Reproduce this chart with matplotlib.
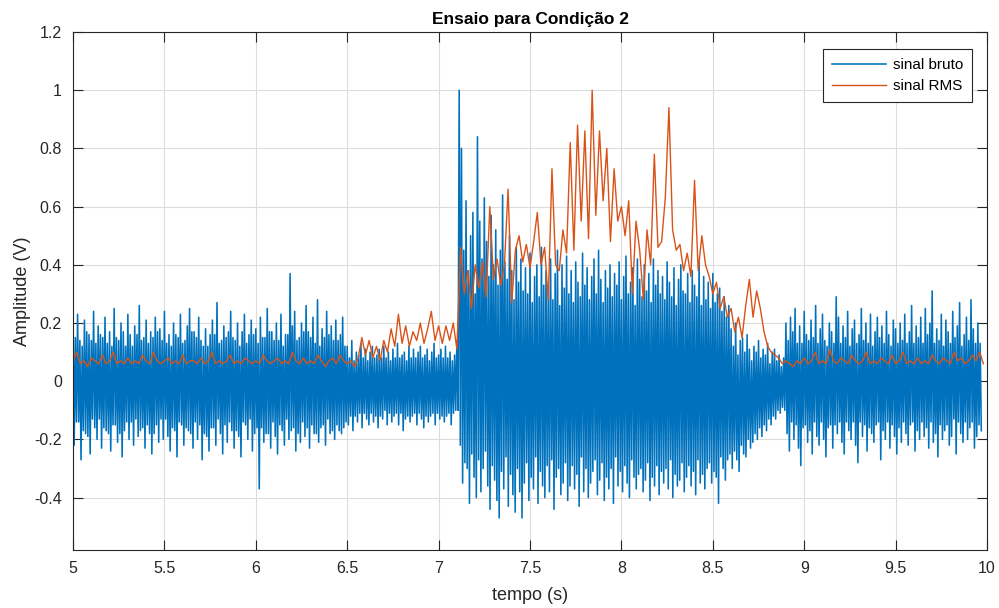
import matplotlib
matplotlib.use('Agg')
import matplotlib.pyplot as plt
import numpy as np

plt.rcParams['font.family'] = ['Liberation Sans', 'DejaVu Sans']

# sinal bruto (centivolts), amostrado a 160 Hz a partir de t = 5 s
fs_bruto = 160.0
t0 = 5.0

# 5.0 - 6.5 s: repouso
bruto_1 = [
    18, -22, 15, -14, 23, -14, 14, -27, 12, -17, 21, -18, 17, -19, 16, -25, 14, -13, 24, -16,
    13, -20, 19, -13, 16, -23, 15, -16, 22, -17, 13, -18, 17, -24, 12, -15, 25, -15, 15, -21,
    14, -18, 20, -26, 17, -17, 12, -14, 23, -20, 16, -14, 12, -22, 19, -13, 16, -19, 26, -17,
    14, -16, 15, -23, 21, -15, 13, -18, 17, -25, 15, -18, 22, -15, 17, -21, 18, -13, 14, -20,
    24, -13, 13, -19, 16, -24, 12, -16, 20, -17, 16, -26, 15, -14, 23, -15, 13, -22, 14, -16,
    19, -17, 25, -18, 17, -23, 17, -14, 15, -20, 22, -15, 14, -27, 12, -18, 18, -19, 12, -24,
    16, -16, 21, -16, 16, -22, 27, -13, 13, -18, 14, -25, 19, -15, 15, -21, 17, -14, 24, -17,
    15, -23, 14, -17, 20, -19, 12, -26, 17, -14, 23, -15, 13, -20, 16, -13, 21, -24, 16, -18,
    18, -16, 13, -37, 22, -16, 15, -21, 15, -18, 25, -18, 17, -23, 17, -14, 14, -19, 20, -25,
    14, -15, 23, -17, 12, -22, 16, -13, 16, -20, 37, -17, 19, -16, 24, -24, 14, -18, 15, -21,
    20, -14, 17, -19, 26, -16, 17, -23, 15, -15, 22, -18, 13, -18, 28, -21, 12, -16, 18, -15,
    15, -22, 24, -13, 16, -18, 19, -17, 14, -20, 21, -15, 14, -17, 16, -18, 22, -16, 12, -14,
]

# 6.5 - 7.1 s: amplitude reduzida
bruto_2 = [
    12, -15, 8, -12, 14, -17, 7, -12, 10, -14, 9, -11, 13, -16, 8, -11, 11, -13, 7, -15,
    10, -11, 12, -14, 8, -12, 9, -16, 11, -12, 8, -13, 12, -10, 8, -15, 10, -11, 7, -14,
    11, -12, 8, -11, 13, -15, 8, -11, 9, -17, 10, -13, 7, -12, 12, -14, 8, -12, 11, -11,
    8, -15, 10, -11, 12, -13, 8, -16, 9, -12, 11, -14, 7, -12, 10, -11, 13, -15, 8, -11,
    9, -13, 11, -12, 8, -14, 12, -12, 8, -11, 10, -15, 7, -11, 9, -10,
]

# 7.1 - 8.6 s: evento
bruto_3 = [
    14, -10, 100, -22, 80, -35, 45, -28, 62, -30, 38, -42, 50, -25, 58, -33, 30, -40, 84, -27,
    55, -38, 42, -30, 63, -24, 48, -36, 36, -44, 57, -29, 40, -34, 52, -41, 33, -47, 45, -31,
    64, -37, 41, -26, 35, -43, 50, -32, 38, -39, 28, -45, 46, -30, 34, -38, 42, -47, 31, -35,
    39, -28, 30, -41, 44, -33, 27, -37, 36, -26, 40, -42, 29, -31, 46, -36, 33, -40, 38, -29,
    31, -38, 42, -27, 28, -44, 37, -33, 45, -30, 26, -39, 40, -35, 32, -28, 43, -41, 30, -36,
    38, -29, 27, -37, 41, -32, 34, -43, 29, -26, 44, -38, 33, -30, 39, -40, 28, -35, 36, -31,
    42, -27, 30, -39, 45, -34, 35, -28, 27, -41, 38, -33, 32, -37, 40, -30, 29, -42, 37, -26,
    33, -36, 41, -31, 28, -38, 36, -29, 43, -35, 30, -40, 34, -27, 39, -33, 26, -37, 42, -32,
    35, -30, 29, -38, 40, -34, 31, -28, 37, -41, 27, -33, 42, -36, 33, -29, 38, -39, 30, -31,
    36, -35, 28, -30, 41, -37, 34, -27, 29, -40, 39, -32, 26, -36, 35, -34, 40, -28, 31, -38,
    30, -33, 37, -29, 27, -36, 38, -31, 33, -39, 29, -27, 41, -35, 26, -32, 36, -37, 28, -30,
    34, -28, 25, -35, 37, -31, 27, -33, 30, -42, 32, -26, 24, -30, 29, -34, 22, -27, 26, -25,
]

# 8.6 - 8.9 s: transição
bruto_4 = [
    18, -30, 12, -24, 20, -27, 9, -31, 14, -22, 15, -25, 10, -26, 16, -20, 11, -23, 7, -21,
    12, -18, 10, -20, 14, -16, 8, -19, 11, -15, 9, -17, 13, -13, 6, -15, 10, -12, 11, -13,
    7, -10, 9, -11, 5, -9, 8, -10,
]

# 8.9 - 10 s: repouso
bruto_5 = [
    20, -18, 14, -24, 22, -14, 17, -20, 25, -15, 13, -23, 19, -29, 13, -16, 24, -15, 16, -21,
    14, -17, 21, -25, 15, -14, 26, -19, 13, -22, 18, -14, 23, -20, 14, -26, 12, -16, 20, -15,
    17, -23, 13, -15, 29, -18, 22, -14, 13, -21, 19, -25, 15, -14, 24, -17, 12, -20, 18, -14,
    21, -22, 13, -28, 16, -14, 25, -19, 14, -15, 20, -24, 13, -16, 23, -18, 12, -21, 17, -15,
    22, -14, 15, -27, 19, -17, 13, -20, 24, -14, 16, -23, 12, -15, 21, -19, 18, -25, 13, -16,
    20, -21, 14, -14, 23, -18, 13, -22, 17, -15, 26, -14, 13, -24, 19, -17, 15, -20, 22, -14,
    13, -19, 25, -16, 16, -23, 20, -14, 31, -21, 13, -18, 18, -26, 14, -15, 23, -20, 12, -17,
    21, -15, 17, -22, 13, -19, 24, -13, 15, -25, 19, -14, 27, -18, 12, -21, 16, -14, 22, -20,
    14, -16, 28, -14, 18, -23, 13, -19, 20, -15, 13, -17,
]

# sinal RMS (centivolts), janela de 20 ms
dt_rms = 0.02
rms_cv = [
    7, 10, 6, 7, 5, 8, 7, 6, 9, 6, 7, 10, 6, 7, 6, 8, 6, 7, 6, 9, 7, 6, 10, 7, 6,
    7, 8, 6, 7, 6, 9, 6, 7, 7, 6, 8, 6, 7, 10, 6, 7, 6, 7, 9, 6, 7, 6, 8, 7, 6,
    7, 6, 9, 7, 6, 7, 8, 6, 7, 6, 10, 7, 6, 8, 6, 7, 6, 9, 7, 5, 7, 8, 6, 9, 7,
    6, 7, 5, 8, 15, 9, 14, 8, 12, 7, 14, 10, 18, 12, 23, 13, 19, 12, 17, 14,
    20, 13, 18, 24, 14, 19, 13, 19, 14, 20,
    11, 46, 30, 38, 25, 40, 32, 41, 29, 60, 35, 42, 33, 40, 66, 27, 45, 50, 41, 47,
    39, 48, 58, 40, 46, 28, 73, 40, 38, 52, 44, 82, 45, 88, 55, 86, 49, 100, 57, 86,
    62, 80, 48, 73, 55, 60, 50, 62, 30, 55, 45, 28, 52, 40, 78, 46, 48, 63, 94, 52,
    45, 47, 38, 44, 36, 69, 38, 50, 40, 36,
    30, 34, 25, 29, 22, 25, 17, 22, 15, 26, 35, 22, 31, 25, 17, 12, 10, 9, 8, 6,
    7, 6, 5, 7, 6, 8, 6, 7, 10, 6, 7, 6, 11, 7, 6, 8, 7, 6, 9, 7,
    6, 7, 10, 6, 7, 6, 8, 7, 6, 9, 6, 7, 10, 6, 7, 6, 8, 6, 7, 6,
    9, 7, 6, 8, 7, 6, 10, 7, 8, 6, 7, 9, 7, 10, 6,
]

bruto = np.array(bruto_1 + bruto_2 + bruto_3 + bruto_4 + bruto_5) / 100.0
t_bruto = t0 + np.arange(len(bruto)) / fs_bruto
rms = np.array(rms_cv) / 100.0
t_rms = t0 + np.arange(len(rms)) * dt_rms

fig = plt.figure(figsize=(9.99, 6.08), dpi=100)
ax = fig.add_axes([0.0731, 0.0954, 0.9149, 0.852])

ax.plot(t_bruto, bruto, color='#0072BD', lw=1.15, label='sinal bruto')
ax.plot(t_rms, rms, color='#D95319', lw=1.0, label='sinal RMS')

ax.set_xlim(5, 10)
ax.set_ylim(-0.58, 1.2)
ax.set_xticks(np.arange(5, 10.01, 0.5))
ax.set_xticklabels(['5', '5.5', '6', '6.5', '7', '7.5', '8', '8.5', '9', '9.5', '10'])
ax.set_yticks(np.arange(-0.4, 1.21, 0.2))
ax.set_yticklabels(['-0.4', '-0.2', '0', '0.2', '0.4', '0.6', '0.8', '1', '1.2'])

ax.grid(True, color='#dcdcdc', lw=0.8)
ax.set_axisbelow(True)
ax.tick_params(direction='in', length=7, width=0.8, colors='#262626',
               top=True, right=True, labelsize=11.5, pad=8)
for s in ax.spines.values():
    s.set_color('#262626')
    s.set_linewidth(0.8)

ax.set_xlabel('tempo (s)', fontsize=13, color='#262626', labelpad=8)
ax.set_ylabel('Amplitude (V)', fontsize=13, color='#262626', labelpad=2)
ax.set_title('Ensaio para Condição 2', fontsize=12.5, fontweight='bold', pad=6)

leg = ax.legend(loc='upper right', bbox_to_anchor=(0.9836, 0.967), borderaxespad=0,
                fontsize=11, fancybox=False, framealpha=1, edgecolor='#262626',
                handlelength=3.5, borderpad=0.6, labelspacing=0.45, handletextpad=0.45)
leg.get_frame().set_linewidth(0.8)

fig.savefig('out.png', dpi=100)
